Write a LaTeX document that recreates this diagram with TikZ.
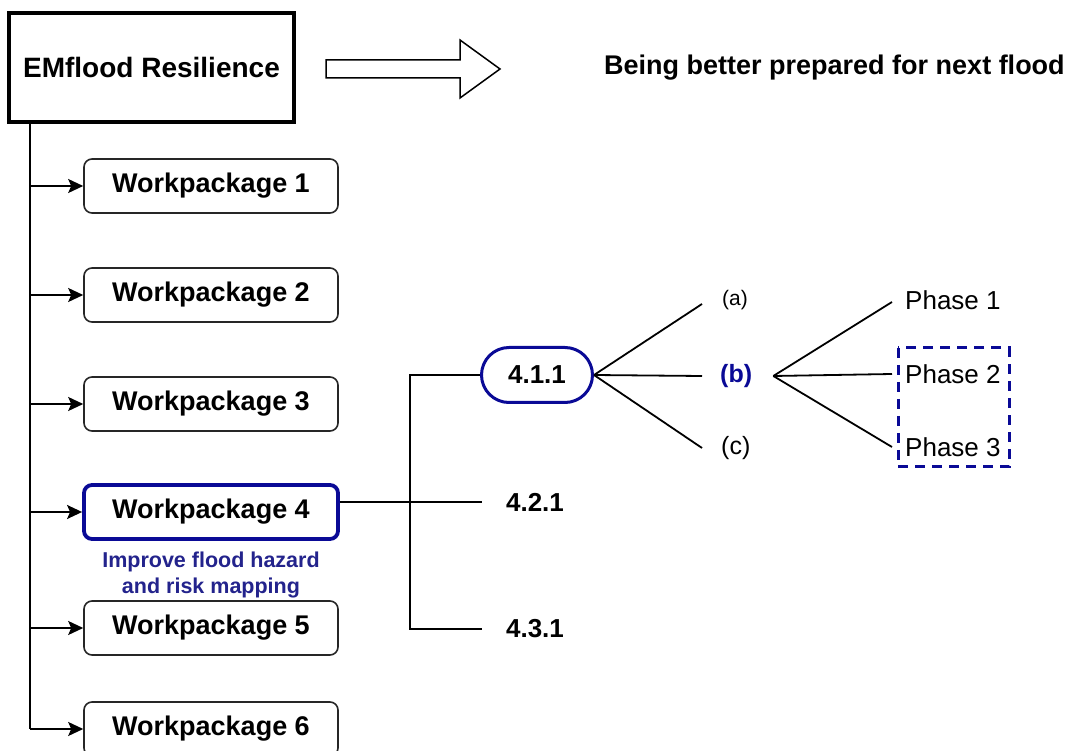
\documentclass[tikz,border=0pt]{standalone}
\usepackage{fontspec}
\setmainfont{Liberation Sans}
\usetikzlibrary{arrows.meta,shapes.misc}
\definecolor{navy}{RGB}{10,10,150}
\definecolor{txtblue}{RGB}{35,35,140}
\tikzset{
  wpbox/.style={draw=black!85, line width=1.6pt, rounded corners=8pt, minimum width=254pt, minimum height=54pt, inner sep=0pt, font=\fontsize{27}{32}\selectfont\bfseries},
  feed/.style={line width=1.8pt, -{Stealth[length=15pt,width=14pt,inset=3pt]}},
  brk/.style={line width=2.8pt},
  fan/.style={line width=1.8pt},
  lbl/.style={inner sep=0pt, anchor=west},
}
\begin{document}
\begin{tikzpicture}[x=1pt,y=-1pt]
\useasboundingbox (0,0) rectangle (1072,751);
\clip (0,0) rectangle (1072,751);
% main box
\node[draw, line width=3.4pt, minimum width=285pt, minimum height=109pt, inner sep=0pt, font=\fontsize{28}{33}\selectfont\bfseries] (main) at (151.5,67.5) {EMflood Resilience};
% hollow arrow
\draw[line width=1.5pt, fill=white] (326,60) -- (460,60) -- (460,40) -- (500,69) -- (460,98) -- (460,78) -- (326,78) -- cycle;
\node[lbl, font=\fontsize{27}{32}\selectfont\bfseries] (goal) at (604,68) {Being better prepared for next flood};
% workpackages
\node[wpbox] (wp1) at (211,186) {Workpackage 1};
\node[wpbox] (wp2) at (211,295) {Workpackage 2};
\node[wpbox] (wp3) at (211,404) {Workpackage 3};
\node[wpbox, draw=navy, line width=3.8pt] (wp4) at (211,512) {Workpackage 4};
\node[wpbox] (wp5) at (211,628) {Workpackage 5};
\node[wpbox] (wp6) at (211,729) {Workpackage 6};
\node[inner sep=0pt, align=center, text=txtblue, font=\fontsize{21.5}{26}\selectfont\bfseries] (wp4txt) at (211,575) {Improve flood hazard\\and risk mapping};
% trunk
\coordinate (t0) at ([xshift=23pt]main.south west);
\draw[line width=1.8pt] (t0) -- (t0 |- wp6.west);
\foreach \w in {wp1,wp2,wp3,wp4,wp5,wp6}{
  \draw[feed] (t0 |- \w.west) -- (\w.west);
}
% WP4 sub-tasks
\node[draw=navy, line width=3pt, rounded rectangle, minimum width=111pt, minimum height=55pt, inner sep=0pt, font=\fontsize{26}{31}\selectfont\bfseries] (p411) at (537,375) {4.1.1};
\node[inner sep=0pt, font=\fontsize{26}{31}\selectfont\bfseries] (n421) at (535,502) {4.2.1};
\node[inner sep=0pt, font=\fontsize{26}{31}\selectfont\bfseries] (n431) at (535,629) {4.3.1};
\coordinate (jt) at (410,375);
\coordinate (jb) at (410,629);
\draw[brk] ([yshift=10pt]wp4.east) -- ([xshift=-24pt]n421.west);
\draw[brk] (p411.west) -- (jt) -- (jb) -- ([xshift=-24pt]n431.west);
% (a)(b)(c)
\node[lbl, font=\fontsize{21}{25}\selectfont] (la) at (722,300) {(a)};
\node[lbl, text=navy, font=\fontsize{25}{29}\selectfont\bfseries] (lb) at (720,376) {(b)};
\node[lbl, font=\fontsize{25}{29}\selectfont] (lc) at (721,448) {(c)};
\draw[fan] (p411.east) -- ([xshift=-20pt,yshift=-4pt]la.west);
\draw[fan] (p411.east) -- ([xshift=-18pt]lb.west);
\draw[fan] (p411.east) -- ([xshift=-19pt]lc.west);
% phases
\node[lbl, font=\fontsize{26}{31}\selectfont] (ph1) at (905,300) {Phase 1};
\node[lbl, font=\fontsize{26}{31}\selectfont] (ph2) at (905,374) {Phase 2};
\node[lbl, font=\fontsize{26}{31}\selectfont] (ph3) at (905,447) {Phase 3};
\coordinate (bo) at ([xshift=21pt]lb.east);
\draw[fan] (bo) -- ([xshift=-13pt,yshift=-2pt]ph1.west);
\draw[fan] (bo) -- ([xshift=-13pt]ph2.west);
\draw[fan] (bo) -- ([xshift=-13pt]ph3.west);
\draw[navy, line width=3pt, dash pattern=on 10pt off 7pt] (898,348) rectangle (1009,467);
\end{tikzpicture}
\end{document}
